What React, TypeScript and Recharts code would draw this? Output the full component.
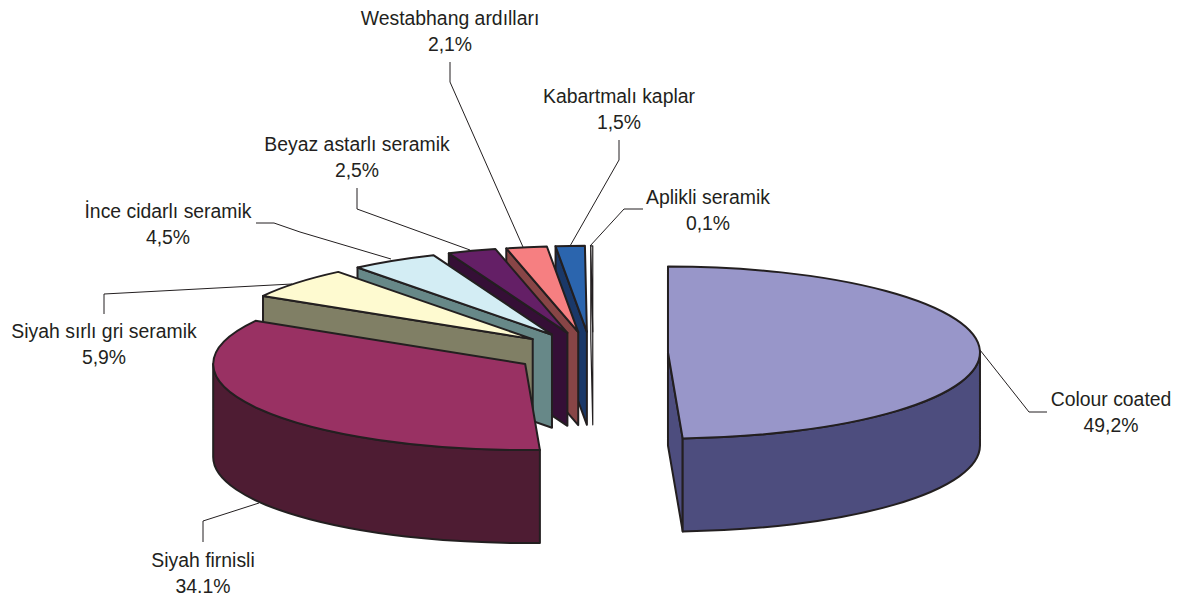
import React from "react";
import { PieChart, Pie } from "recharts";

const categories = [
  "Colour coated",
  "Siyah firnisli",
  "Siyah sırlı gri seramik",
  "İnce cidarlı seramik",
  "Beyaz astarlı seramik",
  "Westabhang ardılları",
  "Kabartmalı kaplar",
  "Aplikli seramik",
];
const shares = [49.2, 34.1, 5.9, 4.5, 2.5, 2.1, 1.5, 0.1];
const shareLabels = ["49,2%", "34.1%", "5,9%", "4,5%", "2,5%", "2,1%", "1,5%", "0,1%"];

const topColors = ["#9896C9", "#993163", "#FEFAD0", "#D3EDF4", "#641F66", "#F67F81", "#2B65AE", "#FFFFFF"];
const sideColors = ["#4D4D7E", "#4E1C33", "#807F65", "#678888", "#350F36", "#884546", "#1A3868", "#FFFFFF"];

// label layout: centre x and first baseline, then leader line points
const labelX = [1111, 203, 104, 168, 357, 450, 619, 708];
const labelY = [405.5, 566.5, 338, 218, 151, 25, 103, 203.5];
const leaders = [
  "1047,412 1029,412 980,350",
  "203,542 203,521 259,503",
  "104,314 104,294 292,284",
  "256,223 274,223 300,232 391,259",
  "357,188 357,209 470,250",
  "450,62 450,82 523,247",
  "619,140 619,160 570,246",
  "643,209 624,209 590,246",
];

const rows = categories
  .map((name, i) => ({ name, value: shares[i], order: i }))
  .reverse();

const CX = 591;
const CY = 353;
const RX = 312;
const RY = 86;
const DEPTH = 93;
const EXPLODE = 77;
const INK = "#231F20";

function Slice(props: any) {
  const { startAngle, endAngle, payload } = props;
  const order = payload?.order ?? props.order;
  const span = endAngle - startAngle;
  let c0 = (((90 - endAngle) % 360) + 360) % 360;
  if (c0 > 359.99) c0 -= 360;
  const c1 = c0 + span;
  const mid = ((c0 + c1) / 2) * (Math.PI / 180);
  const thin = span < 1;
  const ax = CX + EXPLODE * Math.sin(mid) + (thin ? 2 : 0);
  const ay = CY - (EXPLODE * RY * Math.cos(mid)) / RX;
  const pt = (deg: number) => {
    const r = (deg * Math.PI) / 180;
    return [ax + RX * Math.sin(r), ay - RY * Math.cos(r)];
  };
  const [x0, y0] = pt(c0);
  const [x1, y1] = pt(c1);
  const top = `M${ax},${ay} L${x0},${y0} A${RX},${RY} 0 ${span > 180 ? 1 : 0} 1 ${x1},${y1} Z`;
  const face = (x: number, y: number) =>
    `M${ax},${ay} L${x},${y} L${x},${y + DEPTH} L${ax},${ay + DEPTH} Z`;
  const w0 = Math.max(c0, 90);
  const w1 = Math.min(c1, 270);
  let wall = null as string | null;
  if (w1 > w0) {
    const [a, b] = pt(w0);
    const [c, d] = pt(w1);
    const large = w1 - w0 > 180 ? 1 : 0;
    wall = `M${a},${b} A${RX},${RY} 0 ${large} 1 ${c},${d} L${c},${d + DEPTH} A${RX},${RY} 0 ${large} 0 ${a},${b + DEPTH} Z`;
  }
  const side = sideColors[order];
  const style = { stroke: INK, strokeWidth: thin ? 1.2 : 2, strokeLinejoin: "round" as const };
  const sinStart = Math.sin((c0 * Math.PI) / 180);
  const sinEnd = Math.sin((c1 * Math.PI) / 180);
  return (
    <g>
      {sinEnd > 0.001 && <path d={face(x1, y1)} fill={side} {...style} />}
      {sinStart < -0.001 && <path d={face(x0, y0)} fill={side} {...style} />}
      {wall && <path d={wall} fill={side} {...style} />}
      <path d={top} fill={topColors[order]} {...style} />
    </g>
  );
}

function SliceLabel(props: any) {
  const order = props.payload?.order ?? props.order;
  const x = labelX[order];
  const y = labelY[order];
  return (
    <g>
      <polyline points={leaders[order]} fill="none" stroke={INK} strokeWidth={1} />
      <text x={x} y={y} textAnchor="middle" fontFamily="Liberation Sans" fontSize={19.4} fill={INK}>
        {categories[order]}
      </text>
      <text x={x} y={y + 26.3} textAnchor="middle" fontFamily="Liberation Sans" fontSize={19.4} fill={INK}>
        {shareLabels[order]}
      </text>
    </g>
  );
}

export default function App() {
  return (
    <div style={{ position: "absolute", left: 0, top: 0, width: 1189, height: 601, overflow: "hidden", background: "#fff" }}>
      <PieChart width={1189} height={601} margin={{ top: 0, right: 0, bottom: 0, left: 0 }}>
        <Pie
          data={rows}
          dataKey="value"
          nameKey="name"
          cx={CX}
          cy={CY}
          outerRadius={RX}
          innerRadius={0}
          startAngle={90}
          endAngle={450}
          stroke="none"
          shape={Slice}
          label={SliceLabel}
          labelLine={false}
          isAnimationActive={false}
        />
      </PieChart>
    </div>
  );
}
